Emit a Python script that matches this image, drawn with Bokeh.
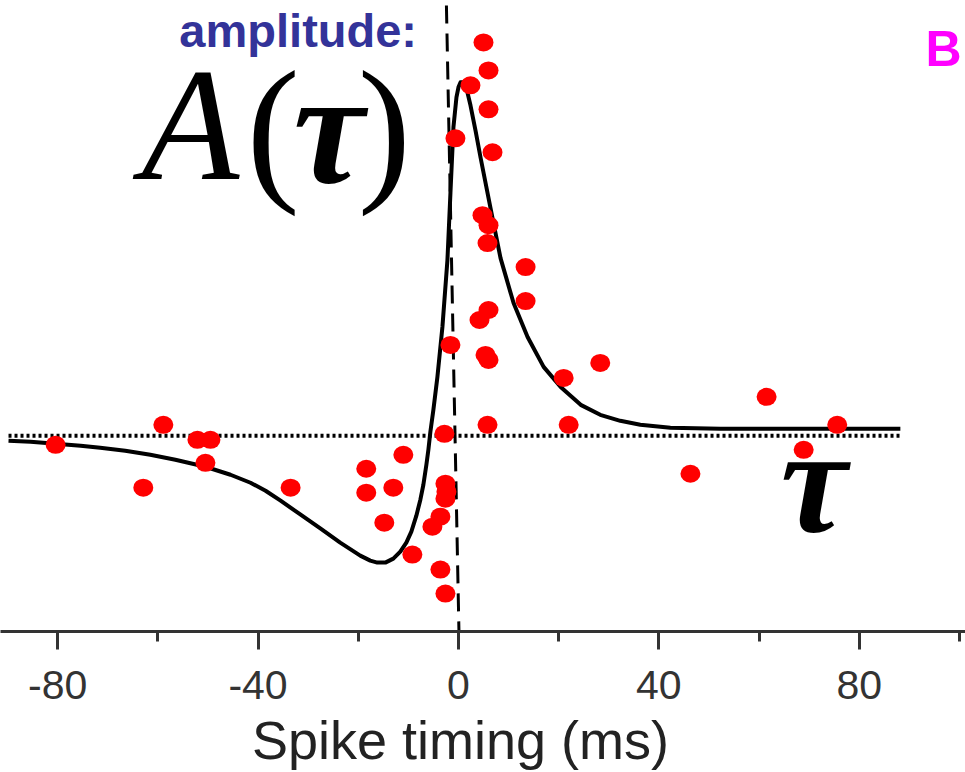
from bokeh.plotting import figure
from bokeh.models import Label, FixedTicker, Range1d
from bokeh.embed import file_html
from bokeh.resources import INLINE

# Fitted amplitude curve A(tau) (ms, relative amplitude)
curve_t = [-89.8, -85.4, -80.4, -75.4, -71.5, -66.5, -61.5, -56.5, -50.5, -45.5,
           -41.5, -38.5, -35.5, -31.5, -27.5, -23.6, -19.6, -17.6, -16.2, -14.6,
           -13.0, -11.6, -10.4, -9.4, -8.4, -7.6, -7.0, -6.4, -6.0, -5.6,
           -5.0, -4.2, -3.2, -2.2, -1.6, -1.0, -0.4, 0.0, 0.4, 1.0,
           1.6, 2.4, 3.4, 4.4, 6.4, 8.4, 11.0, 13.8, 17.0, 20.4,
           24.4, 28.3, 32.3, 36.3, 42.3, 52.3, 88.2]
curve_a = [-0.05, -0.06, -0.08, -0.10, -0.12, -0.15, -0.19, -0.24, -0.31, -0.39,
           -0.47, -0.55, -0.65, -0.79, -0.93, -1.07, -1.20, -1.25, -1.27, -1.27,
           -1.23, -1.16, -1.07, -0.96, -0.80, -0.64, -0.49, -0.29, -0.14, 0.04,
           0.26, 0.59, 1.09, 1.76, 2.43, 3.09, 3.39, 3.49, 3.54, 3.54,
           3.48, 3.31, 3.06, 2.79, 2.28, 1.78, 1.33, 0.99, 0.69, 0.49,
           0.31, 0.21, 0.15, 0.11, 0.08, 0.07, 0.07]

# Measured points (ms, relative amplitude)
dots_t = [-80.4, -62.9, -58.9, -52.1, -49.5, -50.5, -33.5, -18.4, -18.4, -11.0,
          -13.0, -14.8, -9.2, -2.8, -3.6, -2.6, -5.2, -3.6, -2.6, -2.4,
          -2.6, -1.6, -0.6, 2.4, 5.0, 6.0, 6.0, 6.8, 4.8, 6.0,
          5.8, 13.4, 13.4, 6.0, 4.2, 5.4, 6.0, 5.8, 28.3, 21.0,
          22.0, 46.3, 61.5, 68.9, 75.6]
dots_a = [-0.09, -0.52, 0.11, -0.04, -0.04, -0.27, -0.52, -0.33, -0.57, -0.19,
          -0.52, -0.87, -1.19, 0.02, -1.34, -1.58, -0.91, -0.81, -0.48, -0.56,
          -0.63, 0.91, 2.98, 3.51, 3.94, 3.66, 3.27, 2.84, 2.21, 2.11,
          1.93, 1.69, 1.35, 1.26, 1.16, 0.81, 0.76, 0.11, 0.73, 0.58,
          0.11, -0.38, 0.39, -0.14, 0.11]

tick_values = [-80, -40, 0, 40, 80]
tick_labels = ["-80", "-40", "0", "40", "80"]
minor_tick_values = [-100, -60, -20, 20, 60, 100]
x_label = "Spike timing (ms)"

p = figure(width=965, height=772,
           x_range=Range1d(-91.4, 101.2), y_range=Range1d(-1.96, 4.36),
           y_axis_type=None, output_backend="svg", toolbar_location=None,
           min_border_left=0, min_border_right=0, min_border_top=0,
           min_border_bottom=140)
p.outline_line_color = None
p.grid.visible = False
p.background_fill_color = "white"
p.border_fill_color = "white"

ax = p.xaxis[0]
ax.ticker = FixedTicker(ticks=tick_values, minor_ticks=minor_tick_values)
ax.major_label_overrides = {v: s for v, s in zip(tick_values, tick_labels)}
ax.axis_line_width = 3
ax.axis_line_color = "#333333"
ax.major_tick_out = 18
ax.major_tick_in = 0
ax.minor_tick_out = 10
ax.minor_tick_in = 0
ax.major_tick_line_width = 3
ax.minor_tick_line_width = 3
ax.major_tick_line_color = "#333333"
ax.minor_tick_line_color = "#333333"
ax.major_label_text_font = "Liberation Sans"
ax.major_label_text_font_size = "41px"
ax.major_label_text_color = "#333333"
ax.major_label_standoff = 21
# trailing no-break spaces shift the centred title slightly left, as in the source
ax.axis_label = x_label + "\u00a0\u00a0\u00a0"
ax.axis_label_text_font = "Liberation Sans"
ax.axis_label_text_font_style = "normal"
ax.axis_label_text_font_size = "54px"
ax.axis_label_text_color = "#222222"
ax.axis_label_standoff = 8

# zero reference (dotted) and tau = 0 (dashed)
p.line([-89.8, 88.2], [0, 0], line_color="black", line_width=4,
       line_dash="3 3")
p.line([-2.4, 0.1], [4.31, -1.96], line_color="black", line_width=3,
       line_dash="18 10")

# fitted curve
p.line(curve_t, curve_a, line_color="black", line_width=4, line_join="round")

# data points
p.ellipse(dots_t, dots_a, width=20, height=18, width_units="screen",
          height_units="screen", fill_color="#ff0000", line_color=None)

p.add_layout(Label(x=-55.7, y=4.06, text="amplitude:", text_align="left",
                   text_baseline="alphabetic", text_font="Liberation Sans",
                   text_font_style="bold", text_font_size="47px",
                   text_color="#333399"))
for txt, xc, y, style in [("A", -53.5, 3.11, "italic"), ("(", -37.0, 3.08, "normal"),
                          ("τ", -25.9, 3.08, "bold italic"), (")", -14.8, 3.08, "normal")]:
    p.add_layout(Label(x=xc, y=y, text=txt, text_align="center",
                       text_baseline="alphabetic", text_font="Liberation Serif",
                       text_font_style=style, text_font_size="160px",
                       text_color="black"))
p.add_layout(Label(x=70.9, y=-0.45, text="τ", text_align="center",
                   text_baseline="alphabetic", text_font="Liberation Serif",
                   text_font_style="bold italic", text_font_size="150px",
                   text_color="black"))
p.add_layout(Label(x=93.2, y=3.87, text="B", text_align="left",
                   text_baseline="alphabetic", text_font="Liberation Sans",
                   text_font_style="bold", text_font_size="50px",
                   text_color="#ff00ff"))

open("out.html", "w").write(file_html(p, INLINE))
